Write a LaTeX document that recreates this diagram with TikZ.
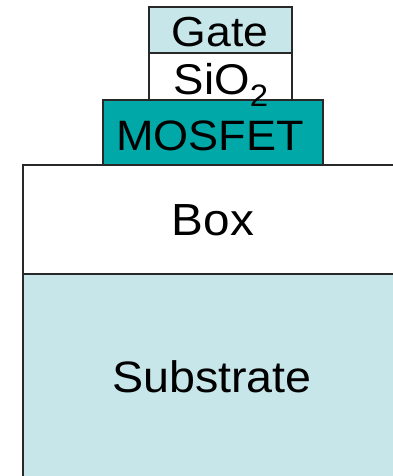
\documentclass[tikz,border=0pt]{standalone}
\usepackage{fontspec}
\setmainfont[FakeStretch=1.06]{Liberation Sans}
\definecolor{paleblue}{RGB}{198,230,234}
\definecolor{mosteal}{RGB}{0,169,168}
\definecolor{edge}{RGB}{40,40,40}
\begin{document}
\begin{tikzpicture}[x=1pt,y=-1pt,
  layer/.style={draw=edge,line width=1.4pt},
  lbl/.style={anchor=base,inner sep=0pt,font=\fontsize{44}{44}\selectfont}]
\useasboundingbox (0,0) rectangle (393,476);
\clip (0,0) rectangle (393,476);
% substrate and buried oxide
\path[layer,fill=paleblue] (23,274) rectangle (402,490);
\path[layer,fill=white] (23,165) rectangle (402,274);
% device stack
\path[layer,fill=mosteal] (103,100) rectangle (323,165);
\path[layer,fill=white] (149,53) rectangle (292,100);
\path[layer,fill=paleblue] (149,7) rectangle (292,53);
% labels
\node[lbl,font=\fontsize{42}{42}\selectfont] (gate) at (220,47) {Gate};
\node[lbl,font=\fontsize{43}{43}\selectfont] (oxide) at (221,95) {SiO\raisebox{-12pt}{\fontsize{31}{31}\selectfont 2}};
\node[lbl,font=\fontsize{42.5}{42.5}\selectfont] (mosfet) at (210,150) {MOSFET};
\node[lbl,font=\fontsize{45}{45}\selectfont] (box) at (213,235) {Box};
\node[lbl] (substrate) at (212,392) {Substrate};
\end{tikzpicture}
\end{document}
